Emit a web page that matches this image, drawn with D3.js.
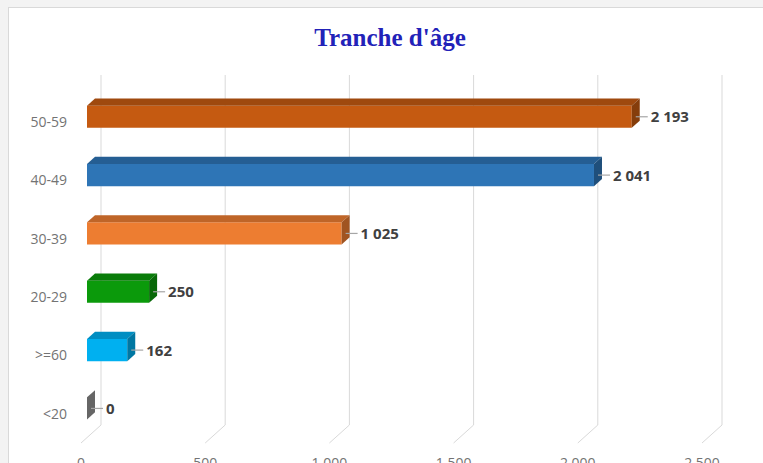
<!DOCTYPE html>
<meta charset="utf-8">
<style>
  body { margin: 0; background: #f3f3f3; }
  .cat { font: 14px "Open Sans", sans-serif; fill: #737373; text-anchor: end; }
  .tick { font: 14px "Open Sans", sans-serif; fill: #737373; text-anchor: middle; }
  .val { font: bold 15px "Open Sans", sans-serif; fill: #404040; }
  .title { font: bold 25px "Liberation Serif", serif; fill: #2222b8; text-anchor: middle; }
</style>
<script src="https://cdn.jsdelivr.net/npm/d3@7"></script>
<div id="chart"></div>
<script>
  // data, top to bottom
  var categories = ["50-59", "40-49", "30-39", "20-29", ">=60", "<20"];
  var values = [2193, 2041, 1025, 250, 162, 0];
  var colors = ["#c55a11", "#2e75b6", "#ed7d31", "#0b9a0b", "#00b0f0", "#7a7a7a"];
  var ticks = [0, 500, 1000, 1500, 2000, 2500];

  var width = 763, height = 463;
  // depth vector of the 3d box (front -> back)
  var dx = 20, dy = -18;
  var z0 = 0.3, z1 = 0.7; // bar depth span

  var fr = d3.formatLocale({ decimal: ",", thousands: " ", grouping: [3], currency: ["", " €"] });
  var fmt = fr.format(",d");

  var svg = d3.select("#chart").append("svg")
    .attr("width", width)
    .attr("height", height);

  svg.append("rect")
    .attr("x", 8.5).attr("y", 7.5)
    .attr("width", width).attr("height", height)
    .attr("fill", "#fff").attr("stroke", "#d9d9d9");

  svg.append("text").attr("class", "title")
    .attr("x", 390).attr("y", 46)
    .text("Tranche d'âge");

  // scales on the front plane of the floor
  var x = d3.scaleLinear().domain([0, 2500]).range([81, 702]);
  var y = d3.scaleBand().domain(categories).range([93, 443])
    .paddingInner(0.62).paddingOuter(0.31);
  var floorY = 443;
  var topY = 93;

  // gridlines: back wall + floor diagonals
  var grid = svg.append("g").attr("stroke", "#d9d9d9").attr("fill", "none");
  ticks.forEach(function(t) {
    var xb = x(t) + dx;
    grid.append("path")
      .attr("d", "M" + xb + "," + (topY + dy) + "V" + (floorY + dy) + "L" + x(t) + "," + floorY);
  });

  svg.selectAll(".tick").data(ticks).enter().append("text")
    .attr("class", "tick")
    .attr("x", function(d) { return x(d); })
    .attr("y", 468)
    .text(function(d) { return fmt(d); });

  // category labels
  svg.selectAll(".cat").data(categories).enter().append("text")
    .attr("class", "cat")
    .attr("x", 67)
    .attr("y", function(d) { return y(d) + y.bandwidth() / 2; })
    .attr("dy", "0.35em")
    .text(function(d) { return d; });

  // 3d bars
  var bars = svg.selectAll(".bar").data(values).enter().append("g").attr("class", "bar");

  function pt(px, py, z) { return [px + z * dx, py + z * dy]; }
  function poly(pts) { return "M" + pts.map(function(p) { return p.join(","); }).join("L") + "Z"; }

  bars.each(function(v, i) {
    var g = d3.select(this);
    var c = d3.color(colors[i]);
    var x0 = x(0), x1 = x(v);
    var yt = y(categories[i]), yb = yt + y.bandwidth();
    if (v > 0) {
      // front
      g.append("path").attr("fill", c.formatHex())
        .attr("d", poly([pt(x0, yt, z0), pt(x1, yt, z0), pt(x1, yb, z0), pt(x0, yb, z0)]));
      // top
      g.append("path").attr("fill", c.darker(0.6).formatHex())
        .attr("d", poly([pt(x0, yt, z0), pt(x1, yt, z0), pt(x1, yt, z1), pt(x0, yt, z1)]));
    }
    // side
    g.append("path").attr("fill", c.darker(v > 0 ? 1.1 : 0.5).formatHex())
      .attr("d", poly([pt(x1, yt, z0), pt(x1, yt, z1), pt(x1, yb, z1), pt(x1, yb, z0)]));

    // leader + label
    var ly = yt + y.bandwidth() / 2 + z0 * dy;
    g.append("line")
      .attr("x1", x1 + 10).attr("x2", x1 + 22)
      .attr("y1", ly).attr("y2", ly)
      .attr("stroke", "#a6a6a6").attr("stroke-width", 1.2);
    g.append("text").attr("class", "val")
      .attr("x", x1 + 25).attr("y", ly)
      .attr("dy", "0.36em")
      .text(fmt(v));
  });
</script>
